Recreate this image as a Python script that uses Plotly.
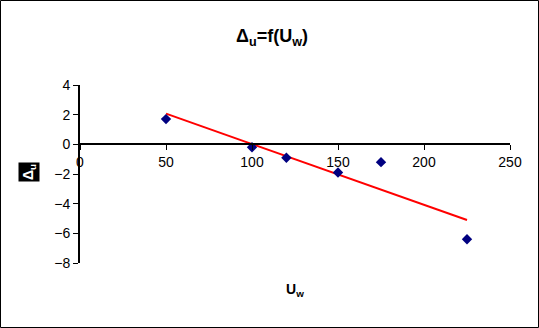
import numpy as np
import plotly.graph_objects as go

# Data
u_w = [50, 100, 120, 150, 175, 225]
delta_u = [1.7, -0.2, -0.9, -1.9, -1.2, -6.4]
x_ticks = [0, 50, 100, 150, 200, 250]
y_ticks = [4, 2, 0, -2, -4, -6, -8]

# Linear trendline (least squares)
slope, intercept = np.polyfit(u_w, delta_u, 1)
trend_x = [min(u_w), max(u_w)]
trend_y = [slope * v + intercept for v in trend_x]

W, H = 539, 328
L, R, T, B = 80, 29, 85, 65
pw, ph = W - L - R, H - T - B

def px(x):
    return (x - L) / pw

def py(y):
    return (H - B - y) / ph

font = "Liberation Sans, Arial, sans-serif"

fig = go.Figure()
fig.add_trace(go.Scatter(x=trend_x, y=trend_y, mode="lines",
                         line=dict(color="#ff0000", width=2), showlegend=False))
fig.add_trace(go.Scatter(x=u_w, y=delta_u, mode="markers",
                         marker=dict(symbol="diamond", size=8, color="#000080"),
                         showlegend=False))

fig.update_layout(
    width=W, height=H,
    margin=dict(l=L, r=R, t=T, b=B),
    paper_bgcolor="white", plot_bgcolor="white",
    font=dict(family=font, color="black", size=13),
    title=dict(text="<b>Δ<sub>u</sub>=f(U<sub>w</sub>)</b>", x=272 / W, xref="container",
               xanchor="center", y=1 - 36 / H, yanchor="middle", font=dict(size=18)),
    xaxis=dict(range=[0, 250], tickvals=x_ticks, ticks="outside", ticklen=5,
               tickcolor="black", showline=True, linecolor="black", linewidth=2,
               showgrid=False, zeroline=False, anchor="free", position=8 / 12,
               tickfont=dict(size=14)),
    yaxis=dict(range=[-8, 4], tickvals=y_ticks, ticks="outside", ticklen=5,
               tickcolor="black", showline=True, linecolor="black", linewidth=2,
               showgrid=False, zeroline=False, tickfont=dict(size=14)),
    shapes=[dict(type="rect", xref="paper", yref="paper",
                 x0=px(0.5), x1=px(W - 0.5), y0=py(0.5), y1=py(H - 0.5),
                 line=dict(color="black", width=1))],
    annotations=[
        dict(text="<b>U<sub>w</sub></b>", xref="paper", yref="paper",
             x=0.5, y=py(301), showarrow=False, font=dict(size=14)),
        dict(text="<b>Δ<sub>u</sub></b>", xref="paper", yref="paper",
             x=px(18), y=py(172), showarrow=False, textangle=-90,
             font=dict(size=14, color="white"), bgcolor="black"),
    ],
)

fig.write_html("out.html")
